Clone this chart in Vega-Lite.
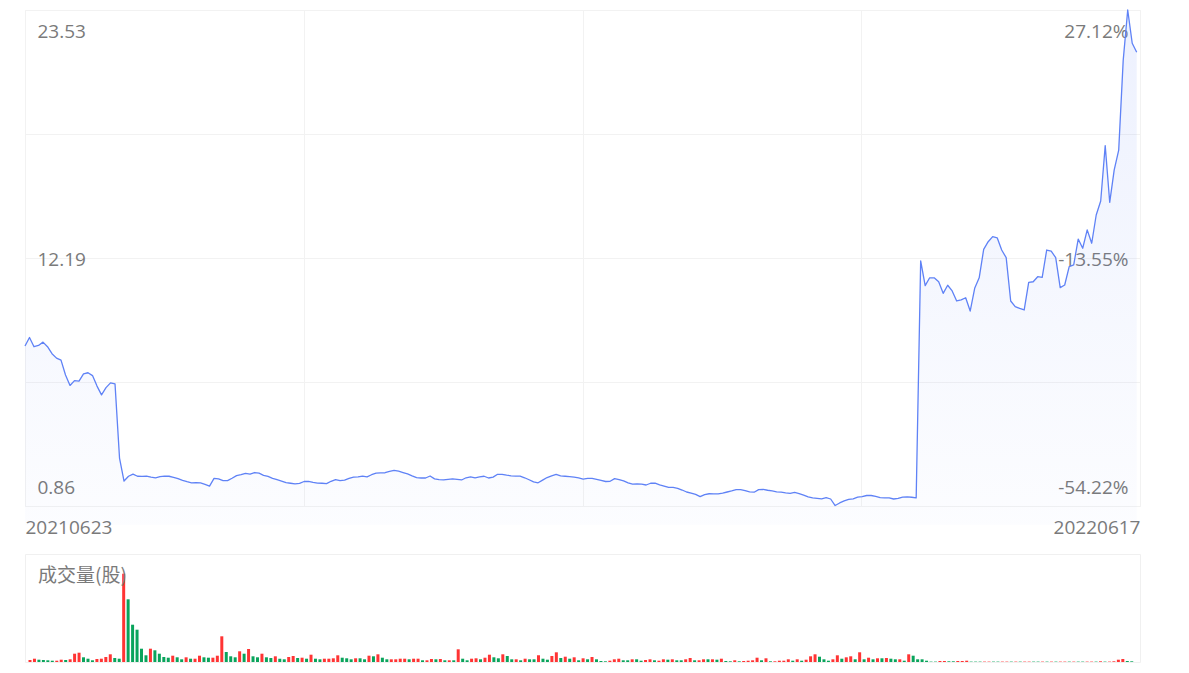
{
"$schema": "https://vega.github.io/schema/vega-lite/v6.json",
"padding": {"left": 23, "top": 8, "right": 49, "bottom": 5},
"background": "white",
"config": {"view": {"stroke": "#f0f0f0"}, "font": "Open Sans"},
"spacing": 15,
"resolve": {"scale": {"x": "independent", "y": "independent", "color": "independent"}},
"datasets": {"day": [
{"i":0,"close":8.17,"vol":2,"dir":"up"},{"i":1,"close":8.56,"vol":3.3,"dir":"up"},{"i":2,"close":8.14,"vol":2.3,"dir":"down"},{"i":3,"close":8.2,"vol":2,"dir":"down"},{"i":4,"close":8.35,"vol":1.7,"dir":"down"},{"i":5,"close":8.14,"vol":1.3,"dir":"down"},{"i":6,"close":7.82,"vol":1.3,"dir":"up"},{"i":7,"close":7.62,"vol":2.3,"dir":"up"},{"i":8,"close":7.53,"vol":2,"dir":"down"},{"i":9,"close":6.85,"vol":2.7,"dir":"up"},
{"i":10,"close":6.37,"vol":8.3,"dir":"up"},{"i":11,"close":6.59,"vol":9.3,"dir":"up"},{"i":12,"close":6.57,"vol":4.7,"dir":"down"},{"i":13,"close":6.9,"vol":3.3,"dir":"down"},{"i":14,"close":6.95,"vol":1.7,"dir":"down"},{"i":15,"close":6.82,"vol":3,"dir":"up"},{"i":16,"close":6.34,"vol":3.3,"dir":"up"},{"i":17,"close":5.94,"vol":5,"dir":"up"},{"i":18,"close":6.27,"vol":7.7,"dir":"up"},{"i":19,"close":6.49,"vol":4,"dir":"down"},
{"i":20,"close":6.44,"vol":3.3,"dir":"down"},{"i":21,"close":3.05,"vol":88.3,"dir":"up"},{"i":22,"close":2.0,"vol":62.7,"dir":"down"},{"i":23,"close":2.22,"vol":37.3,"dir":"down"},{"i":24,"close":2.32,"vol":32.3,"dir":"down"},{"i":25,"close":2.22,"vol":13.3,"dir":"down"},{"i":26,"close":2.21,"vol":6.7,"dir":"down"},{"i":27,"close":2.23,"vol":13.3,"dir":"up"},{"i":28,"close":2.18,"vol":11.7,"dir":"down"},{"i":29,"close":2.15,"vol":8.3,"dir":"down"},
{"i":30,"close":2.2,"vol":5,"dir":"down"},{"i":31,"close":2.23,"vol":4.3,"dir":"down"},{"i":32,"close":2.22,"vol":6.3,"dir":"up"},{"i":33,"close":2.17,"vol":4.7,"dir":"down"},{"i":34,"close":2.11,"vol":2.7,"dir":"down"},{"i":35,"close":2.03,"vol":4.7,"dir":"up"},{"i":36,"close":1.97,"vol":3.3,"dir":"down"},{"i":37,"close":1.92,"vol":3.3,"dir":"up"},{"i":38,"close":1.93,"vol":6.3,"dir":"up"},{"i":39,"close":1.92,"vol":4.7,"dir":"down"},
{"i":40,"close":1.85,"vol":4.3,"dir":"down"},{"i":41,"close":1.77,"vol":4.3,"dir":"up"},{"i":42,"close":2.12,"vol":6.3,"dir":"up"},{"i":43,"close":2.1,"vol":25.7,"dir":"up"},{"i":44,"close":2.02,"vol":10,"dir":"down"},{"i":45,"close":2.02,"vol":5.7,"dir":"down"},{"i":46,"close":2.13,"vol":4.7,"dir":"down"},{"i":47,"close":2.25,"vol":10.7,"dir":"up"},{"i":48,"close":2.29,"vol":8.3,"dir":"down"},{"i":49,"close":2.35,"vol":13,"dir":"up"},
{"i":50,"close":2.32,"vol":5.7,"dir":"down"},{"i":51,"close":2.39,"vol":4.7,"dir":"down"},{"i":52,"close":2.36,"vol":8.3,"dir":"up"},{"i":53,"close":2.26,"vol":4.7,"dir":"down"},{"i":54,"close":2.21,"vol":4,"dir":"down"},{"i":55,"close":2.12,"vol":5.7,"dir":"up"},{"i":56,"close":2.06,"vol":3.3,"dir":"down"},{"i":57,"close":2.0,"vol":2.7,"dir":"down"},{"i":58,"close":1.93,"vol":5,"dir":"up"},{"i":59,"close":1.9,"vol":6,"dir":"up"},
{"i":60,"close":1.87,"vol":4,"dir":"down"},{"i":61,"close":1.89,"vol":4.3,"dir":"up"},{"i":62,"close":1.98,"vol":3.3,"dir":"down"},{"i":63,"close":1.99,"vol":7.3,"dir":"up"},{"i":64,"close":1.94,"vol":3.3,"dir":"down"},{"i":65,"close":1.91,"vol":2.7,"dir":"down"},{"i":66,"close":1.9,"vol":3.3,"dir":"up"},{"i":67,"close":1.88,"vol":3.3,"dir":"up"},{"i":68,"close":1.99,"vol":3.7,"dir":"up"},{"i":69,"close":2.07,"vol":6.7,"dir":"up"},
{"i":70,"close":2.02,"vol":4.3,"dir":"down"},{"i":71,"close":2.04,"vol":3.7,"dir":"down"},{"i":72,"close":2.12,"vol":2.7,"dir":"down"},{"i":73,"close":2.18,"vol":3.7,"dir":"up"},{"i":74,"close":2.19,"vol":3.7,"dir":"down"},{"i":75,"close":2.23,"vol":2.7,"dir":"down"},{"i":76,"close":2.19,"vol":6.3,"dir":"up"},{"i":77,"close":2.29,"vol":5.7,"dir":"down"},{"i":78,"close":2.36,"vol":7.7,"dir":"up"},{"i":79,"close":2.37,"vol":4.3,"dir":"down"},
{"i":80,"close":2.38,"vol":2.7,"dir":"down"},{"i":81,"close":2.44,"vol":2.7,"dir":"up"},{"i":82,"close":2.49,"vol":2.7,"dir":"up"},{"i":83,"close":2.45,"vol":3.3,"dir":"up"},{"i":84,"close":2.39,"vol":3.3,"dir":"up"},{"i":85,"close":2.33,"vol":2.7,"dir":"down"},{"i":86,"close":2.24,"vol":3.3,"dir":"up"},{"i":87,"close":2.16,"vol":3.3,"dir":"up"},{"i":88,"close":2.14,"vol":1.7,"dir":"down"},{"i":89,"close":2.14,"vol":1.7,"dir":"up"},
{"i":90,"close":2.23,"vol":3,"dir":"up"},{"i":91,"close":2.1,"vol":2.7,"dir":"down"},{"i":92,"close":2.07,"vol":3,"dir":"up"},{"i":93,"close":2.05,"vol":1.7,"dir":"down"},{"i":94,"close":2.08,"vol":1.7,"dir":"up"},{"i":95,"close":2.1,"vol":1.7,"dir":"down"},{"i":96,"close":2.08,"vol":12.7,"dir":"up"},{"i":97,"close":2.05,"vol":3.3,"dir":"down"},{"i":98,"close":2.15,"vol":1.7,"dir":"down"},{"i":99,"close":2.19,"vol":3.3,"dir":"up"},
{"i":100,"close":2.15,"vol":3.7,"dir":"up"},{"i":101,"close":2.19,"vol":2.7,"dir":"down"},{"i":102,"close":2.22,"vol":4.3,"dir":"up"},{"i":103,"close":2.14,"vol":7.3,"dir":"up"},{"i":104,"close":2.18,"vol":4.7,"dir":"down"},{"i":105,"close":2.31,"vol":3.7,"dir":"down"},{"i":106,"close":2.31,"vol":7.7,"dir":"up"},{"i":107,"close":2.27,"vol":6,"dir":"down"},{"i":108,"close":2.24,"vol":2.7,"dir":"down"},{"i":109,"close":2.23,"vol":2.7,"dir":"up"},
{"i":110,"close":2.23,"vol":1.7,"dir":"down"},{"i":111,"close":2.15,"vol":3.3,"dir":"up"},{"i":112,"close":2.06,"vol":2.7,"dir":"down"},{"i":113,"close":1.96,"vol":2.7,"dir":"down"},{"i":114,"close":1.92,"vol":6.7,"dir":"up"},{"i":115,"close":2.04,"vol":3.3,"dir":"down"},{"i":116,"close":2.16,"vol":2.3,"dir":"down"},{"i":117,"close":2.24,"vol":6,"dir":"up"},{"i":118,"close":2.3,"vol":9.7,"dir":"up"},{"i":119,"close":2.24,"vol":4,"dir":"down"},
{"i":120,"close":2.22,"vol":5.3,"dir":"up"},{"i":121,"close":2.2,"vol":3.3,"dir":"down"},{"i":122,"close":2.18,"vol":4.7,"dir":"up"},{"i":123,"close":2.15,"vol":1.7,"dir":"down"},{"i":124,"close":2.09,"vol":3.7,"dir":"up"},{"i":125,"close":2.12,"vol":2.7,"dir":"down"},{"i":126,"close":2.12,"vol":5,"dir":"up"},{"i":127,"close":2.08,"vol":2.7,"dir":"down"},{"i":128,"close":2.03,"vol":1,"dir":"down"},{"i":129,"close":1.98,"vol":0.7,"dir":"down"},
{"i":130,"close":1.99,"vol":1.3,"dir":"up"},{"i":131,"close":2.11,"vol":2.7,"dir":"up"},{"i":132,"close":2.07,"vol":3.3,"dir":"up"},{"i":133,"close":2.01,"vol":1.7,"dir":"down"},{"i":134,"close":1.92,"vol":1.7,"dir":"down"},{"i":135,"close":1.86,"vol":2.7,"dir":"up"},{"i":136,"close":1.87,"vol":2.7,"dir":"down"},{"i":137,"close":1.86,"vol":1.3,"dir":"down"},{"i":138,"close":1.82,"vol":2,"dir":"up"},{"i":139,"close":1.9,"vol":2.7,"dir":"up"},
{"i":140,"close":1.91,"vol":1.7,"dir":"down"},{"i":141,"close":1.83,"vol":1.3,"dir":"up"},{"i":142,"close":1.77,"vol":2.7,"dir":"up"},{"i":143,"close":1.71,"vol":2.3,"dir":"down"},{"i":144,"close":1.71,"vol":2.7,"dir":"up"},{"i":145,"close":1.67,"vol":1.7,"dir":"down"},{"i":146,"close":1.59,"vol":1.7,"dir":"down"},{"i":147,"close":1.5,"vol":2.7,"dir":"up"},{"i":148,"close":1.45,"vol":4,"dir":"up"},{"i":149,"close":1.39,"vol":1.7,"dir":"down"},
{"i":150,"close":1.29,"vol":1.7,"dir":"up"},{"i":151,"close":1.38,"vol":2.7,"dir":"up"},{"i":152,"close":1.42,"vol":2.7,"dir":"down"},{"i":153,"close":1.41,"vol":2.7,"dir":"up"},{"i":154,"close":1.41,"vol":2.3,"dir":"down"},{"i":155,"close":1.45,"vol":3.3,"dir":"up"},{"i":156,"close":1.5,"vol":1,"dir":"down"},{"i":157,"close":1.55,"vol":0.7,"dir":"down"},{"i":158,"close":1.61,"vol":1.7,"dir":"up"},{"i":159,"close":1.61,"vol":0.7,"dir":"down"},
{"i":160,"close":1.56,"vol":1,"dir":"up"},{"i":161,"close":1.51,"vol":1.3,"dir":"up"},{"i":162,"close":1.49,"vol":1.7,"dir":"up"},{"i":163,"close":1.61,"vol":4.3,"dir":"up"},{"i":164,"close":1.62,"vol":1.7,"dir":"down"},{"i":165,"close":1.58,"vol":3.7,"dir":"up"},{"i":166,"close":1.55,"vol":0.7,"dir":"down"},{"i":167,"close":1.51,"vol":0.7,"dir":"up"},{"i":168,"close":1.49,"vol":1.3,"dir":"up"},{"i":169,"close":1.46,"vol":1.3,"dir":"up"},
{"i":170,"close":1.44,"vol":2.7,"dir":"up"},{"i":171,"close":1.48,"vol":1.3,"dir":"down"},{"i":172,"close":1.43,"vol":2.7,"dir":"up"},{"i":173,"close":1.36,"vol":1.3,"dir":"down"},{"i":174,"close":1.28,"vol":2.3,"dir":"up"},{"i":175,"close":1.23,"vol":5.7,"dir":"up"},{"i":176,"close":1.21,"vol":7.7,"dir":"up"},{"i":177,"close":1.19,"vol":5.3,"dir":"down"},{"i":178,"close":1.24,"vol":2.7,"dir":"down"},{"i":179,"close":1.18,"vol":1.3,"dir":"down"},
{"i":180,"close":0.88,"vol":2.7,"dir":"up"},{"i":181,"close":1.0,"vol":6.7,"dir":"up"},{"i":182,"close":1.09,"vol":3.3,"dir":"down"},{"i":183,"close":1.16,"vol":4.7,"dir":"up"},{"i":184,"close":1.19,"vol":5.7,"dir":"up"},{"i":185,"close":1.27,"vol":2.7,"dir":"down"},{"i":186,"close":1.29,"vol":9.7,"dir":"up"},{"i":187,"close":1.34,"vol":2.7,"dir":"down"},{"i":188,"close":1.34,"vol":4.3,"dir":"up"},{"i":189,"close":1.3,"vol":2.7,"dir":"down"},
{"i":190,"close":1.24,"vol":3.7,"dir":"up"},{"i":191,"close":1.23,"vol":3.7,"dir":"down"},{"i":192,"close":1.23,"vol":4,"dir":"up"},{"i":193,"close":1.18,"vol":3.3,"dir":"down"},{"i":194,"close":1.21,"vol":2.7,"dir":"down"},{"i":195,"close":1.27,"vol":2.7,"dir":"up"},{"i":196,"close":1.28,"vol":1.3,"dir":"down"},{"i":197,"close":1.26,"vol":7.7,"dir":"up"},{"i":198,"close":1.23,"vol":6.3,"dir":"down"},{"i":199,"close":12.06,"vol":2.7,"dir":"down"},
{"i":200,"close":10.93,"vol":2.7,"dir":"down"},{"i":201,"close":11.29,"vol":1.3,"dir":"down"},{"i":202,"close":11.29,"vol":0.4,"dir":"down"},{"i":203,"close":11.11,"vol":0.4,"dir":"down"},{"i":204,"close":10.58,"vol":1,"dir":"up"},{"i":205,"close":10.95,"vol":1,"dir":"up"},{"i":206,"close":10.69,"vol":0.7,"dir":"down"},{"i":207,"close":10.23,"vol":0.7,"dir":"down"},{"i":208,"close":10.28,"vol":1,"dir":"up"},{"i":209,"close":10.38,"vol":1,"dir":"up"},
{"i":210,"close":9.77,"vol":1.3,"dir":"up"},{"i":211,"close":10.81,"vol":0.4,"dir":"down"},{"i":212,"close":11.29,"vol":0.4,"dir":"down"},{"i":213,"close":12.59,"vol":0.4,"dir":"down"},{"i":214,"close":12.94,"vol":0.4,"dir":"up"},{"i":215,"close":13.17,"vol":0.4,"dir":"up"},{"i":216,"close":13.12,"vol":0.4,"dir":"down"},{"i":217,"close":12.56,"vol":0.4,"dir":"down"},{"i":218,"close":12.21,"vol":0.4,"dir":"up"},{"i":219,"close":10.23,"vol":0.4,"dir":"up"},
{"i":220,"close":9.97,"vol":0.4,"dir":"down"},{"i":221,"close":9.89,"vol":0.4,"dir":"up"},{"i":222,"close":9.82,"vol":0.4,"dir":"down"},{"i":223,"close":11.08,"vol":0.4,"dir":"up"},{"i":224,"close":11.11,"vol":0.4,"dir":"up"},{"i":225,"close":11.34,"vol":0.4,"dir":"down"},{"i":226,"close":11.31,"vol":0.4,"dir":"down"},{"i":227,"close":12.56,"vol":0.4,"dir":"up"},{"i":228,"close":12.51,"vol":0.4,"dir":"down"},{"i":229,"close":12.21,"vol":0.4,"dir":"up"},
{"i":230,"close":10.84,"vol":0.4,"dir":"down"},{"i":231,"close":10.96,"vol":0.4,"dir":"up"},{"i":232,"close":11.8,"vol":0.4,"dir":"up"},{"i":233,"close":11.88,"vol":0.4,"dir":"down"},{"i":234,"close":13.06,"vol":0.4,"dir":"up"},{"i":235,"close":12.64,"vol":0.4,"dir":"down"},{"i":236,"close":13.48,"vol":0.4,"dir":"down"},{"i":237,"close":12.87,"vol":0.4,"dir":"up"},{"i":238,"close":14.16,"vol":0.4,"dir":"up"},{"i":239,"close":14.8,"vol":0.4,"dir":"down"},
{"i":240,"close":17.33,"vol":0.7,"dir":"up"},{"i":241,"close":14.74,"vol":0.4,"dir":"down"},{"i":242,"close":16.22,"vol":0.4,"dir":"up"},{"i":243,"close":17.13,"vol":0.7,"dir":"up"},{"i":244,"close":21.24,"vol":2.3,"dir":"up"},{"i":245,"close":23.53,"vol":3,"dir":"up"},{"i":246,"close":22.01,"vol":1,"dir":"down"},{"i":247,"close":21.6,"vol":0.7,"dir":"down"}
]},
"vconcat": [
{
"width": 1115, "height": 496,
"data": {"name": "day"},
"resolve": {"scale": {"y": "independent"}},
"layer": [
{"mark": {"type": "area", "line": false, "color": {"gradient": "linear", "x1": 0, "y1": 0, "x2": 0, "y2": 1, "stops": [{"offset": 0, "color": "rgba(91,127,245,0.11)"}, {"offset": 1, "color": "rgba(91,127,245,0.02)"}]}},
 "encoding": {
  "x": {"field": "i", "type": "quantitative", "scale": {"domain": [0, 247.73], "nice": false, "zero": false},
        "axis": {"title": null, "values": [0, 61.93, 123.865, 185.8, 247.73], "labelExpr": "datum.value == 0 ? '20210623' : (datum.value > 247 ? '20220617' : '')", "grid": true, "gridColor": "#f2f2f2", "domain": false, "ticks": false, "tickSize": 0, "labelPadding": 12, "labelFlush": true, "labelOverlap": false, "labelFontSize": 19, "labelColor": "#7a7a7a", "labelFont": "Open Sans"}},
  "y": {"field": "close", "type": "quantitative", "scale": {"domain": [0.86, 23.53], "nice": false, "zero": false},
        "axis": {"orient": "left", "title": null, "values": [0.86, 6.5275, 12.195, 17.8625, 23.53], "labelExpr": "datum.value > 20 ? '23.53' : (datum.value > 10 && datum.value < 15 ? '12.19' : (datum.value < 1 ? '0.86' : ''))", "grid": true, "gridColor": "#f2f2f2", "domain": false, "ticks": false, "tickSize": 0, "labelAlign": "left", "labelPadding": -12, "labelBaseline": "alphabetic", "labelOffset": {"condition": [{"test": "datum.value > 20", "value": 27.5}, {"test": "datum.value < 1", "value": -12.5}], "value": 7.5}, "labelOverlap": false, "labelFontSize": 19, "labelColor": "#7a7a7a", "labelFont": "Open Sans"}}
 }},
{"mark": {"type": "line", "color": "#5f82f6", "strokeWidth": 1.3, "strokeJoin": "round"},
 "encoding": {
  "x": {"field": "i", "type": "quantitative"},
  "y": {"field": "close", "type": "quantitative", "scale": {"domain": [0.86, 23.53], "nice": false, "zero": false},
        "axis": {"orient": "right", "title": null, "values": [0.86, 12.195, 23.53], "labelExpr": "datum.value > 20 ? '27.12%' : (datum.value > 10 && datum.value < 15 ? '-13.55%' : '-54.22%')", "grid": false, "domain": false, "ticks": false, "tickSize": 0, "labelAlign": "right", "labelPadding": -12, "labelBaseline": "alphabetic", "labelOffset": {"condition": [{"test": "datum.value > 20", "value": 27.5}, {"test": "datum.value < 1", "value": -12.5}], "value": 7.5}, "labelOverlap": false, "labelFontSize": 19, "labelColor": "#7a7a7a", "labelFont": "Open Sans"}}
 }}
]
},
{
"width": 1115, "height": 108,
"layer": [
{"data": {"name": "day"},
 "mark": {"type": "bar", "size": 3, "orient": "vertical"},
 "encoding": {
  "x": {"field": "i", "type": "quantitative", "scale": {"domain": [0, 247.73], "nice": false, "zero": false}, "axis": null},
  "y": {"field": "vol", "type": "quantitative", "scale": {"domain": [0, 108], "nice": false}, "axis": null},
  "color": {"field": "dir", "type": "nominal", "scale": {"domain": ["up", "down"], "range": ["#ff3434", "#0aa45c"]}, "legend": null}
 }},
{"data": {"values": [{"label": "成交量(股)"}]},
 "mark": {"type": "text", "align": "left", "baseline": "alphabetic", "dx": 8, "dy": 28, "fontSize": 19, "font": "Noto Sans CJK SC", "color": "#7a7a7a"},
 "encoding": {
  "x": {"datum": 0, "type": "quantitative"},
  "y": {"datum": 108, "type": "quantitative"},
  "text": {"field": "label"}
 }}
]
}
]
}
